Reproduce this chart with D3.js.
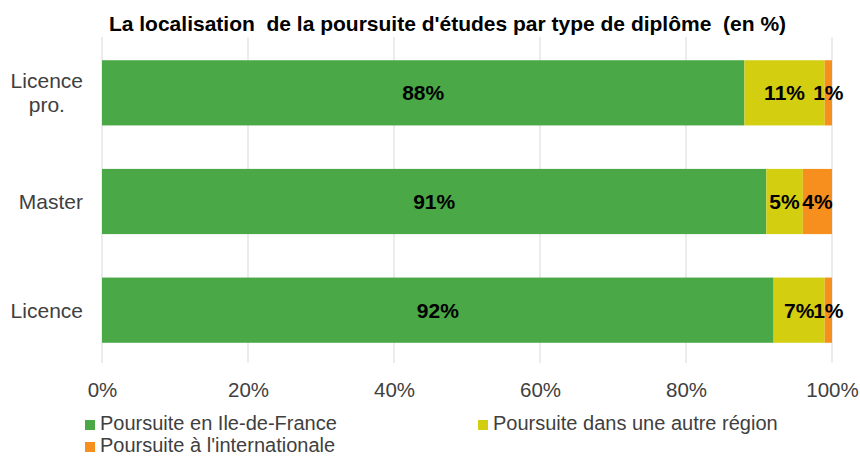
<!DOCTYPE html>
<html>
<head>
<meta charset="utf-8">
<script src="https://cdn.jsdelivr.net/npm/d3@7/dist/d3.min.js"></script>
<style>
  html, body { margin: 0; padding: 0; background: #fff; }
  svg { display: block; font-family: "Liberation Sans", Arial, sans-serif; }
</style>
</head>
<body>
<svg id="chart" width="860" height="456"></svg>
<script>
const title = "La localisation  de la poursuite d'études par type de diplôme  (en %)";
const categories = ["Licence pro.", "Master", "Licence"];
const seriesNames = ["Poursuite en Ile-de-France", "Poursuite dans une autre région", "Poursuite à l'internationale"];
const ileDeFrance = [88, 91, 92];
const autreRegion = [11, 5, 7];
const international = [1, 4, 1];
const tickValues = [0, 20, 40, 60, 80, 100];
const colors = ["#4aa846", "#d4ce10", "#f78f1f"];

const svg = d3.select("#chart");
const plotLeft = 102, plotRight = 832, gridTop = 37, gridBottom = 363;

const x = d3.scaleLinear().domain([0, 100]).range([plotLeft, plotRight]);
const y = d3.scaleBand().domain(categories).range([38.5, 364.5])
  .paddingInner(0.4).paddingOuter(0.2);

// title
svg.append("text").attr("x", 447.5).attr("y", 31).attr("text-anchor", "middle")
  .attr("font-size", 21).attr("font-weight", "bold").attr("fill", "#000")
  .style("white-space", "pre").text(title);

// gridlines
svg.append("g").selectAll("line").data(tickValues).join("line")
  .attr("x1", d => x(d)).attr("x2", d => x(d))
  .attr("y1", gridTop).attr("y2", gridBottom)
  .attr("stroke", "#d9d9d9").attr("stroke-width", 1);

// x axis labels
const xAxis = d3.axisBottom(x).tickValues(tickValues).tickFormat(d => d + "%").tickSize(0).tickPadding(19);
const gx = svg.append("g").attr("transform", `translate(0,${gridBottom})`).call(xAxis);
gx.select(".domain").remove();
gx.selectAll("text").attr("font-size", 20.5).attr("fill", "#404040")
  .attr("font-family", "'Liberation Sans', Arial, sans-serif");

// stacked data
const rows = categories.map((c, i) => ({ cat: c, v: [ileDeFrance[i], autreRegion[i], international[i]] }));
const segs = [];
rows.forEach(r => {
  let acc = 0;
  r.v.forEach((v, k) => { segs.push({ cat: r.cat, k, x0: acc, x1: acc + v, v }); acc += v; });
});

svg.append("g").selectAll("rect").data(segs).join("rect")
  .attr("x", d => x(d.x0)).attr("width", d => x(d.x1) - x(d.x0))
  .attr("y", d => y(d.cat)).attr("height", y.bandwidth())
  .attr("fill", d => colors[d.k]);

// data labels
svg.append("g").selectAll("text").data(segs).join("text")
  .attr("x", d => (x(d.x0) + x(d.x1)) / 2)
  .attr("y", d => y(d.cat) + y.bandwidth() / 2 + 7.5)
  .attr("text-anchor", "middle").attr("font-size", 21).attr("font-weight", "bold")
  .attr("fill", "#000").text(d => d.v + "%");

// category labels (wrapped, centered block right-aligned)
const lineH = 24;
const catG = svg.append("g");
categories.forEach(c => {
  const lines = c === "Licence pro." ? ["Licence", "pro."] : [c];
  const cy = y(c) + y.bandwidth() / 2;
  const t = catG.append("text").attr("font-size", 21).attr("fill", "#404040").attr("text-anchor", "middle");
  lines.forEach((ln, i) => {
    t.append("tspan").attr("y", cy + 7.5 - (lines.length - 1) * lineH / 2 + i * lineH).text(ln);
  });
  let maxW = 0;
  t.selectAll("tspan").each(function() { maxW = Math.max(maxW, this.getComputedTextLength()); });
  t.selectAll("tspan").attr("x", 83 - maxW / 2);
});

// legend
const legendPos = [[85, 430], [478, 430], [85, 452]];
const lg = svg.append("g");
seriesNames.forEach((n, i) => {
  const [lx, ly] = legendPos[i];
  lg.append("rect").attr("x", lx).attr("y", ly - 10).attr("width", 10).attr("height", 10).attr("fill", colors[i]);
  lg.append("text").attr("x", lx + 15).attr("y", ly).attr("font-size", 20).attr("fill", "#404040").text(n);
});
</script>
</body>
</html>
